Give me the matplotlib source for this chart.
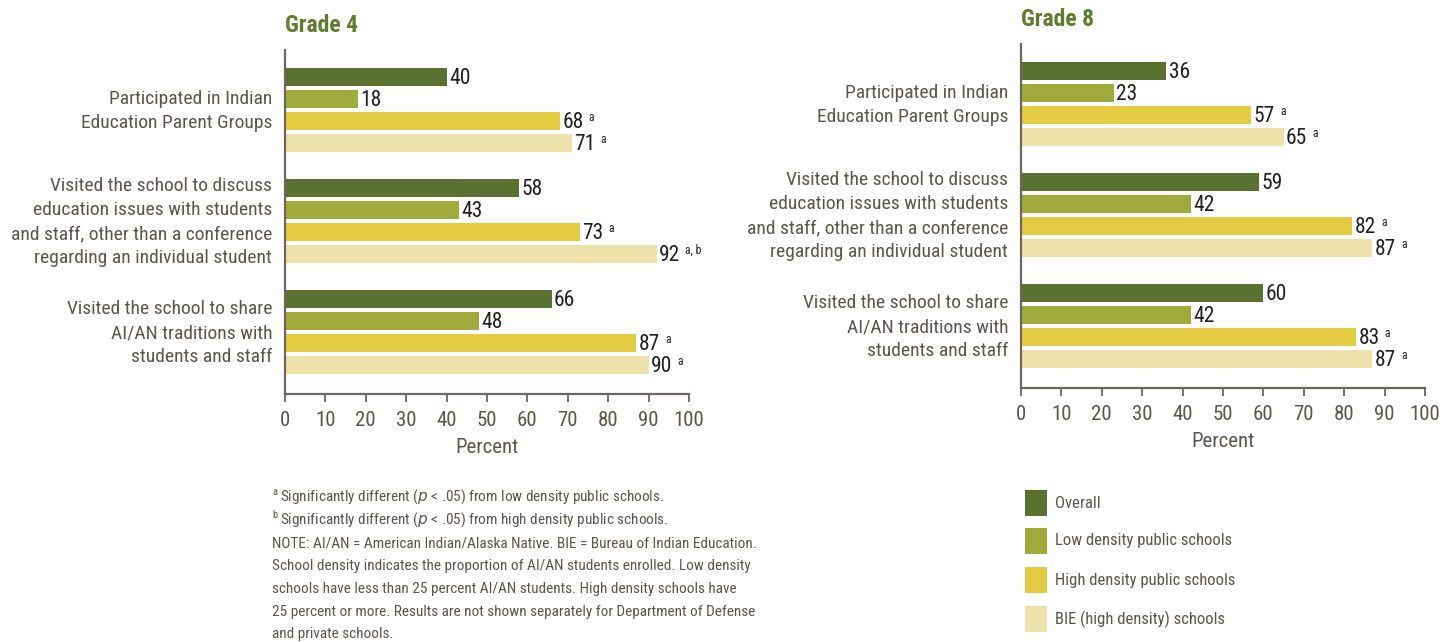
import numpy as np
import matplotlib
matplotlib.use("Agg")
import matplotlib.pyplot as plt
from matplotlib import font_manager
from matplotlib.patches import Rectangle
from matplotlib.transforms import offset_copy

# data
questions = ["Participated in Indian\nEducation Parent Groups",
             "Visited the school to discuss\neducation issues with students\nand staff, other than a conference\nregarding an individual student",
             "Visited the school to share\nAI/AN traditions with\nstudents and staff"]
groups = ["Overall", "Low density public schools", "High density public schools", "BIE (high density) schools"]
grade4 = [[40, 18, 68, 71],
          [58, 43, 73, 92],
          [66, 48, 87, 90]]
grade4_sig = [["", "", "a", "a"],
              ["", "", "a", "a, b"],
              ["", "", "a", "a"]]
grade8 = [[36, 23, 57, 65],
          [59, 42, 82, 87],
          [60, 42, 83, 87]]
grade8_sig = [["", "", "a", "a"],
              ["", "", "a", "a"],
              ["", "", "a", "a"]]
xticks = [0, 10, 20, 30, 40, 50, 60, 70, 80, 90, 100]

colors = ["#5a7230", "#9fac3b", "#e3cc41", "#ede2a9"]
txtcol = "#5e554d"
axcol = "#6e655c"
numcol = "#231f20"
green = "#5f7d2f"

names = {f.name for f in font_manager.fontManager.ttflist}
cond = next((n for n in ["Roboto Condensed", "Liberation Sans Narrow", "Open Sans Condensed",
                         "DejaVu Sans Condensed"] if n in names), "DejaVu Sans")
plt.rcParams["font.family"] = [cond, "DejaVu Sans"]

fig = plt.figure(figsize=(14.55, 6.42), dpi=100)
renderer = fig.canvas.get_renderer()

W, H = 1455.0, 642.0


def panel(left, top, bottom, data, sig, title):
    ax = fig.add_axes([left / W, 1 - bottom / H, 404 / W, (bottom - top) / H])
    pitch = 22.0
    nunits = (bottom - top) / pitch
    ax.set_ylim(nunits, 0)
    ax.set_xlim(0, 100)
    for g in range(len(data)):
        for i, v in enumerate(data[g]):
            y = 1.23 + g * 5.05 + i
            ax.barh(y, v, height=0.82, color=colors[i], linewidth=0)
            t = ax.text(v + 0.6, y + 0.05, str(v), va="center", ha="left", fontsize=15.5,
                        color=numcol)
            if sig[g][i]:
                bb = t.get_window_extent(renderer)
                x1 = ax.transData.inverted().transform((bb.x1, 0))[0]
                tr = offset_copy(ax.transData, fig=fig, x=5, y=0, units="dots")
                ax.text(x1, y - 0.18, sig[g][i], va="center", ha="left",
                        fontsize=8.5, color=numcol, transform=tr)
        yc = 1.23 + g * 5.05 + 1.55
        ax.text(-3.2, yc, questions[g], ha="right", va="center", fontsize=14,
                color=txtcol, linespacing=1.42)
    ax.set_xticks(xticks)
    ax.set_yticks([])
    for s in ["top", "right"]:
        ax.spines[s].set_visible(False)
    for s in ["left", "bottom"]:
        ax.spines[s].set_color(axcol)
        ax.spines[s].set_linewidth(1.6)
    ax.tick_params(axis="x", colors=axcol, length=6, width=1.3, labelsize=15, pad=6,
                   labelcolor=txtcol)
    ax.set_xlabel("Percent", fontsize=15, color=txtcol, labelpad=6)
    ax.text(0, -1.1, title, fontsize=17, fontweight="bold", color=green,
            ha="left", va="center")
    return ax


panel(285, 50, 394, grade4, grade4_sig, "Grade 4")
panel(1021, 44, 388, grade8, grade8_sig, "Grade 8")

# footnotes
fs = 11
x0 = 272 / W
ys = [497, 520, 543, 566, 589, 612, 634]
sups = ["a", "b"]
rests = ["from low density public schools.", "from high density public schools."]
for k in range(2):
    y = 1 - ys[k] / H
    fig.text(x0, y + 0.008, sups[k], fontsize=7.5, color=txtcol, va="center")
    fig.text(x0 + 8 / W, y, "Significantly different ($\\it{p}$ < .05) " + rests[k],
             fontsize=fs, color=txtcol, va="center")
lines = ["NOTE: AI/AN = American Indian/Alaska Native. BIE = Bureau of Indian Education.",
         "School density indicates the proportion of AI/AN students enrolled. Low density",
         "schools have less than 25 percent AI/AN students. High density schools have",
         "25 percent or more. Results are not shown separately for Department of Defense",
         "and private schools."]
for k, ln in enumerate(lines):
    fig.text(x0, 1 - ys[k + 2] / H, ln, fontsize=fs, color=txtcol, va="center")

# legend
ly = [503, 541, 580, 619]
for k, g in enumerate(groups):
    fig.patches.append(Rectangle((1025 / W, 1 - (ly[k] + 13) / H), 22 / W, 26 / H,
                                 transform=fig.transFigure, color=colors[k], linewidth=0))
    fig.text(1055 / W, 1 - ly[k] / H, g, fontsize=12, color=txtcol, va="center")

fig.savefig("out.png", dpi=100)
